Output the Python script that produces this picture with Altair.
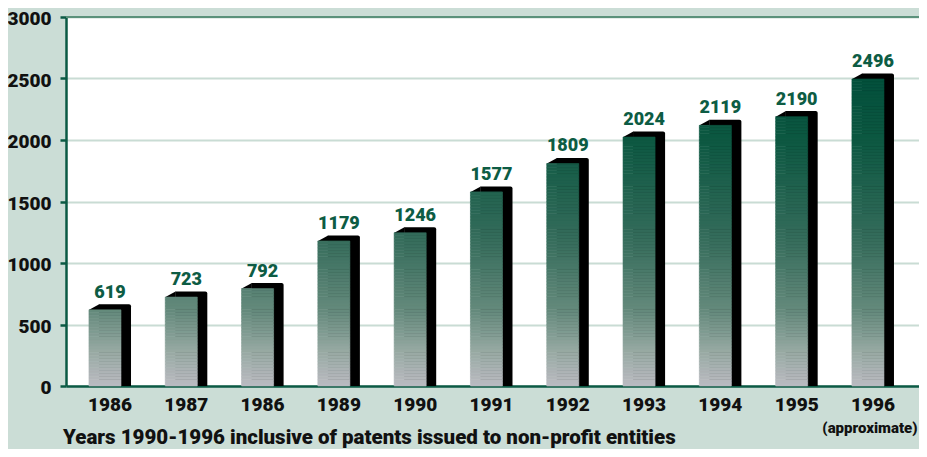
import altair as alt
import pandas as pd

# ---- data ----
years = ["1986", "1987", "1986", "1989", "1990", "1991", "1992", "1993", "1994", "1995", "1996"]
patents = [619, 723, 792, 1179, 1246, 1577, 1809, 2024, 2119, 2190, 2496]
y_ticks = [0, 500, 1000, 1500, 2000, 2500, 3000]
caption = "Years 1990-1996 inclusive of patents issued to non-profit entities"
note = "(approximate)"

FONT = "Roboto"
W = 900
BG = "#cbddd6"
DARK = "#0b5a44"

idx = list(range(len(years)))
bars = pd.DataFrame({"i": idx, "year": years, "patents": patents})

# front faces split into thin bands so the colour follows height like the original
STEP = 25
rows = []
for i, v in zip(idx, patents):
    lo = 0
    while lo < v:
        hi = min(lo + STEP, v)
        rows.append({"i": i, "lo": lo, "hi": hi, "mid": (lo + hi) / 2})
        lo = hi
seg = pd.DataFrame(rows)

x_scale = alt.Scale(domain=[-0.511, 10.669], nice=False, zero=False)
y_scale = alt.Scale(domain=[0, 3000], nice=False)

label_expr = "[" + ",".join("'%s'" % y for y in years) + "][datum.value]"

x_axis = alt.Axis(values=idx, labelExpr=label_expr, ticks=False, grid=False,
                  domainColor=DARK, domainWidth=2.5, labelFont=FONT, labelFontSize=19,
                  labelFontWeight=W, labelColor="#111111", labelPadding=9,
                  labelOffset=4.5, title=None)
y_axis = alt.Axis(values=y_ticks, format="d", grid=True, gridColor="#c9dcd4", gridWidth=2,
                  domainColor=DARK, domainWidth=2.5, tickColor=DARK, tickWidth=2.5,
                  tickSize=6, labelFont=FONT, labelFontSize=19, labelFontWeight=W,
                  labelColor="#111111", labelPadding=9, labelOffset=1.5, title=None)

base = alt.Chart(bars).transform_calculate(l="datum.i - 0.21", r="datum.i + 0.21")

side = base.mark_rect(color="black", xOffset=10, x2Offset=10, yOffset=-5.6,
                      cornerRadiusTopRight=2).encode(
    x=alt.X("l:Q", scale=x_scale, axis=x_axis),
    x2="r:Q",
    y=alt.Y("patents:Q", scale=y_scale, axis=y_axis),
    y2=alt.datum(0),
)

bevel = base.mark_point(shape="M -1.05 1.05 L 1.05 -0.12 L 1.05 1.05 Z", filled=True,
                        color="black", opacity=1, size=100, xOffset=5, yOffset=-5).encode(
    x=alt.X("l:Q", scale=x_scale),
    y=alt.Y("patents:Q", scale=y_scale),
)

grad_dom = [0, 300, 600, 1200, 2000, 2500]
grad_rng = ["#bbbbc2", "#95a8a1", "#668b7d", "#356c5b", "#0d5842", "#03503b"]

front = alt.Chart(seg).transform_calculate(l="datum.i - 0.21", r="datum.i + 0.21").mark_rect(
    strokeWidth=0.6).encode(
    x=alt.X("l:Q", scale=x_scale),
    x2="r:Q",
    y=alt.Y("hi:Q", scale=y_scale),
    y2="lo:Q",
    color=alt.Color("mid:Q", legend=None,
                    scale=alt.Scale(domain=grad_dom, range=grad_rng, interpolate="rgb")),
    stroke=alt.Stroke("mid:Q", legend=None,
                      scale=alt.Scale(domain=grad_dom, range=grad_rng, interpolate="rgb")),
)

top_rule = alt.Chart(pd.DataFrame({"v": [3000]})).mark_rule(color="#5b917b", strokeWidth=2).encode(
    y=alt.Y("v:Q", scale=y_scale)
)

values = base.mark_text(dx=5, dy=-12, baseline="alphabetic", font=FONT, fontSize=18,
                        fontWeight=W, color="#0d5c44").encode(
    x=alt.X("i:Q", scale=x_scale),
    y=alt.Y("patents:Q", scale=y_scale),
    text="patents:Q",
)

note_layer = alt.Chart(pd.DataFrame({"i": [idx[-1]], "t": [note]})).mark_text(
    dx=2, baseline="alphabetic", font=FONT, fontSize=15, fontWeight=W,
    color="#111111").encode(
    x=alt.X("i:Q", scale=x_scale),
    y=alt.value(416),
    text="t:N",
)

cap_layer = alt.Chart(pd.DataFrame({"t": [caption]})).mark_text(
    align="left", baseline="alphabetic", font=FONT, fontSize=20.5, fontWeight=W,
    color="#111111").encode(
    x=alt.value(-3),
    y=alt.value(427),
    text="t:N",
)

chart = alt.layer(top_rule, side, bevel, front, values, note_layer, cap_layer).properties(
    width=853, height=369,
    autosize=alt.AutoSizeParams(type="none"),
    padding={"left": 58, "top": 9, "right": 0, "bottom": 63},
    background=BG,
).configure_view(fill="white", strokeWidth=0)

chart.save("out.html", embed_options={"renderer": "svg", "actions": False})
